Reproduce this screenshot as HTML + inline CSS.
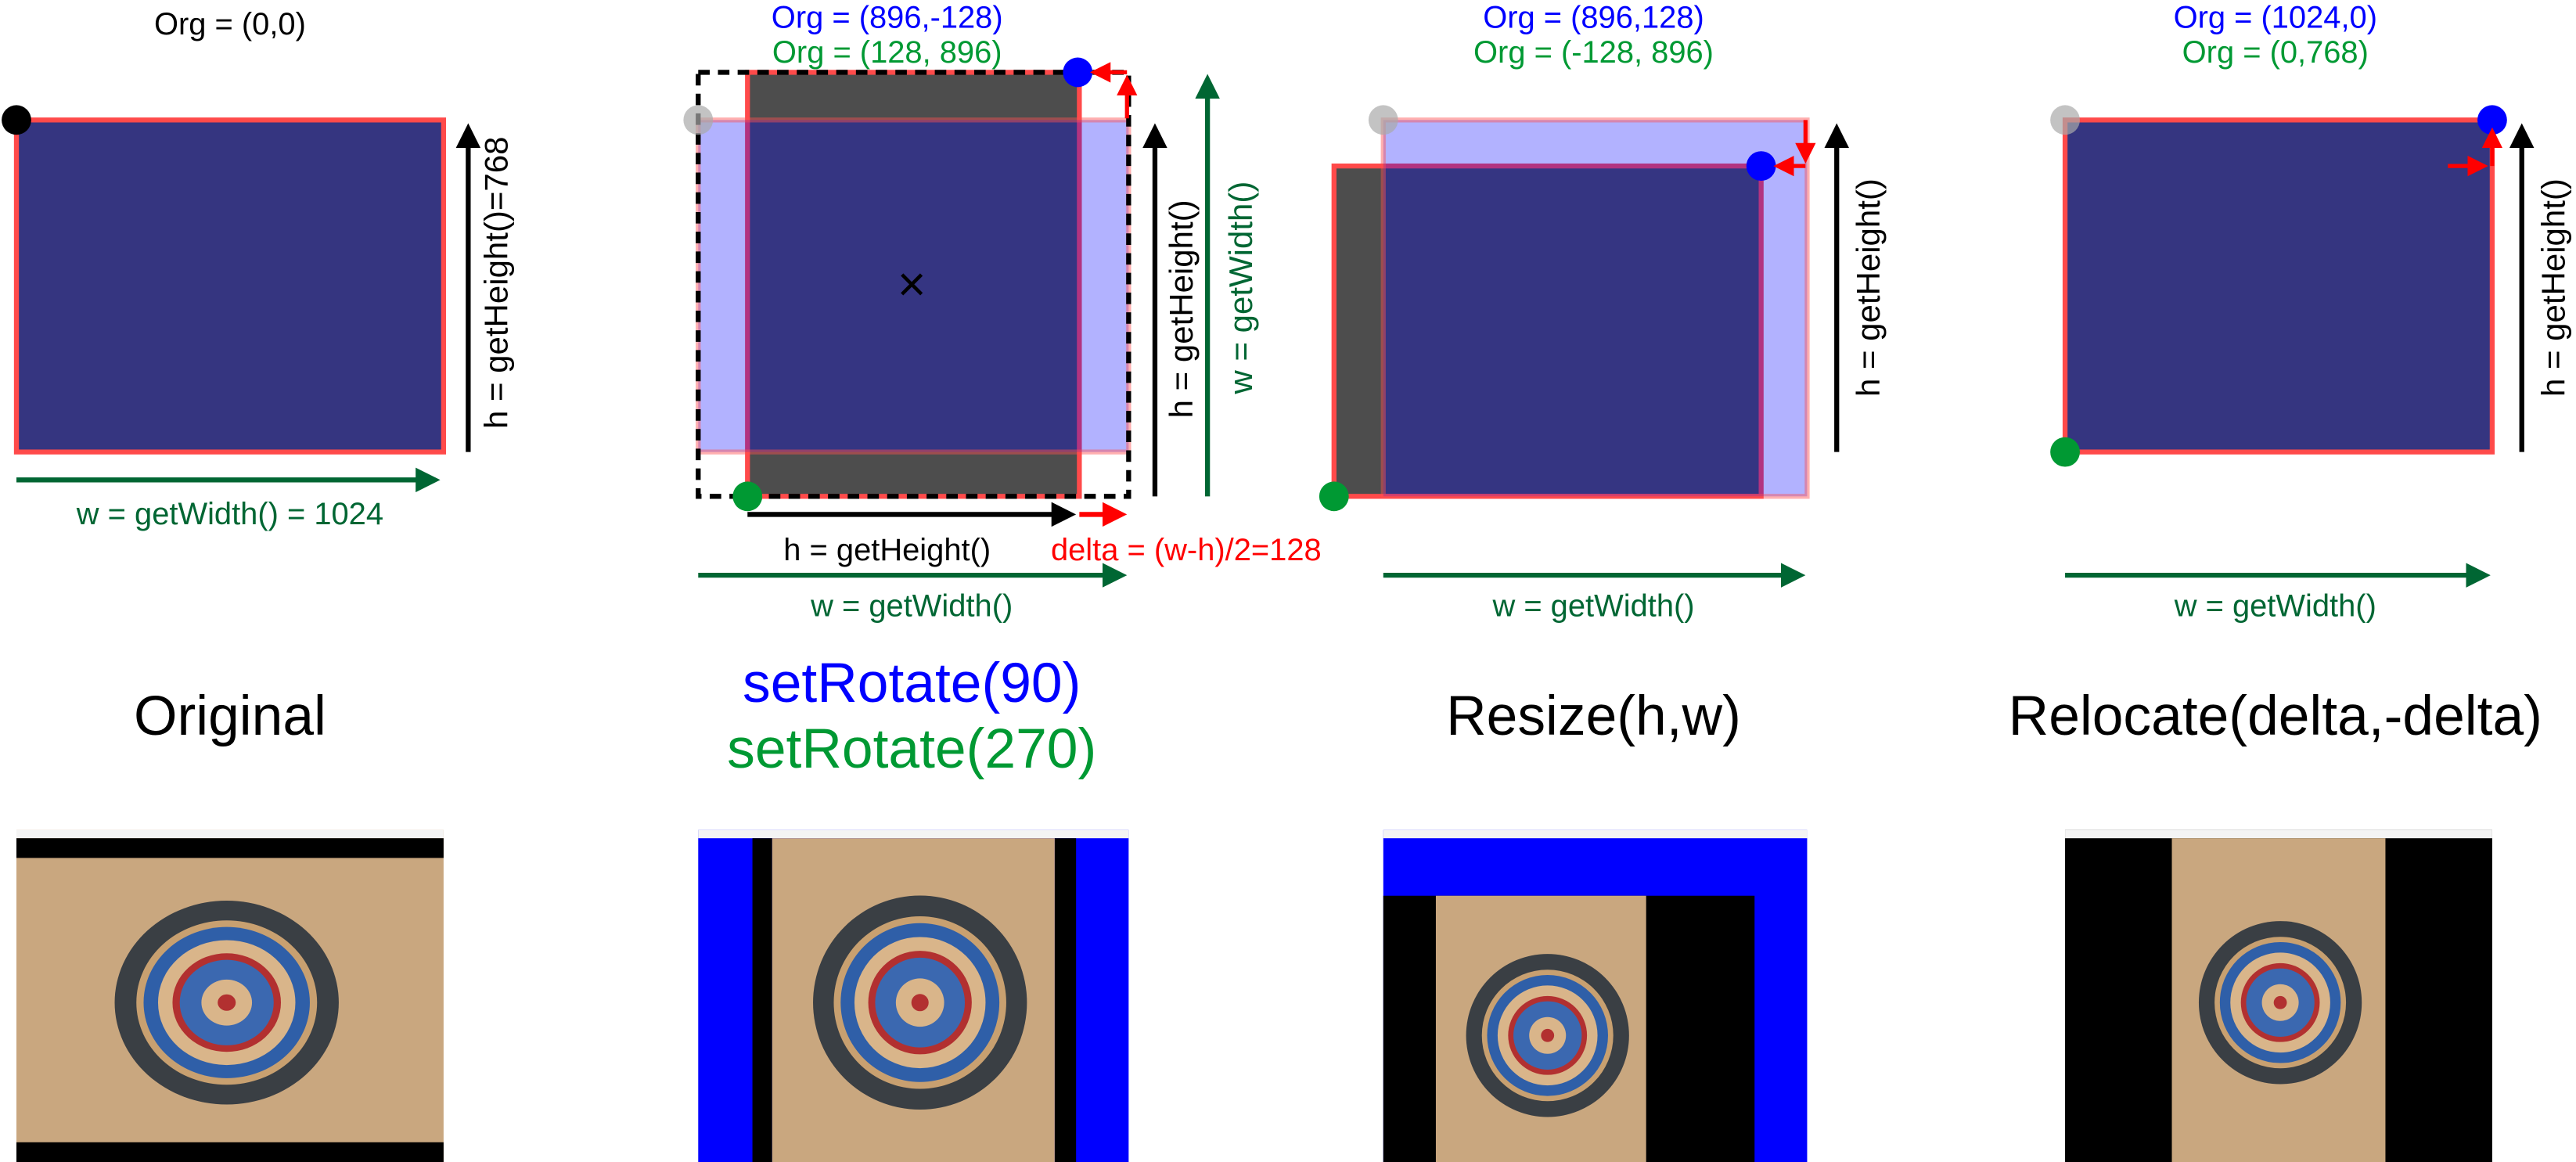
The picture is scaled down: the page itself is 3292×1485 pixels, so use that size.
<!DOCTYPE html>
<html><head><meta charset="utf-8"><style>
html,body{margin:0;padding:0;background:#fff;width:3292px;height:1485px;overflow:hidden}
svg{display:block}
text{font-family:"Liberation Sans",sans-serif}
</style></head><body>
<svg width="3292" height="1485" viewBox="0 0 1568 707" preserveAspectRatio="none">
<defs>
<marker id="ak" markerWidth="5" markerHeight="5" refX="4" refY="2.5" orient="auto" markerUnits="strokeWidth"><path d="M0,0 L5,2.5 L0,5 z" fill="#000"/></marker>
<marker id="ag" markerWidth="5" markerHeight="5" refX="4" refY="2.5" orient="auto" markerUnits="strokeWidth"><path d="M0,0 L5,2.5 L0,5 z" fill="#006633"/></marker>
<marker id="ar" markerWidth="5" markerHeight="5" refX="4" refY="2.5" orient="auto" markerUnits="strokeWidth"><path d="M0,0 L5,2.5 L0,5 z" fill="#f00"/></marker>
<g id="board">
<circle r="62" fill="#3a3f44"/><circle r="50" fill="#c8a070"/><circle r="46" fill="#2f5fa8"/><circle r="38" fill="#d9b58a"/><circle r="30" fill="#b23030"/><circle r="26" fill="#3b68b0"/><circle r="14" fill="#d9b58a"/><circle r="5" fill="#b23030"/>
</g>
</defs>

<g>
<text x="140" y="21" font-size="19" text-anchor="middle" fill="#000">Org = (0,0)</text>
<rect x="10" y="73" width="260" height="202" fill="#353580" stroke="#ff4a4a" stroke-width="3"/>
<circle cx="10" cy="73" r="9" fill="#000"/>
<line x1="285" y1="275" x2="285" y2="78" stroke="#000" stroke-width="3" marker-end="url(#ak)"/>
<text transform="translate(309,172) rotate(-90)" font-size="20" text-anchor="middle">h = getHeight()=768</text>
<line x1="10" y1="292" x2="265" y2="292" stroke="#006633" stroke-width="3" marker-end="url(#ag)"/>
<text x="140" y="319" font-size="19" text-anchor="middle" fill="#006633">w = getWidth() = 1024</text>
<text x="140" y="447" font-size="34" text-anchor="middle">Original</text>
<g>
<rect x="10" y="505" width="260" height="202" fill="#c9a77f"/>
<rect x="10" y="505" width="260" height="5" fill="#f4f4f4"/>
<rect x="10" y="510" width="260" height="12" fill="#000"/>
<rect x="10" y="695" width="260" height="12" fill="#000"/>
<use href="#board" transform="translate(138,610) scale(1.1,1)"/>
</g>
</g>

<g>
<text x="540" y="17" font-size="19" text-anchor="middle" fill="#0000ff">Org = (896,-128)</text>
<text x="540" y="38" font-size="19" text-anchor="middle" fill="#009933">Org = (128, 896)</text>
<rect x="455" y="44" width="202" height="258" fill="#4d4d4d" stroke="#ff4a4a" stroke-width="3"/>
<rect x="425" y="73" width="262" height="202" fill="rgba(0,0,255,0.3)" stroke="rgba(255,80,80,0.45)" stroke-width="3"/>
<rect x="425" y="44" width="262" height="258" fill="none" stroke="#000" stroke-width="3" stroke-dasharray="7,5"/>
<circle cx="425" cy="73" r="9" fill="rgba(170,170,170,0.7)"/>
<circle cx="656" cy="44" r="9" fill="#0000ff"/>
<circle cx="455" cy="302" r="9" fill="#009933"/>
<text x="555" y="183" font-size="30" text-anchor="middle">×</text>
<line x1="686" y1="72" x2="686" y2="48" stroke="#f00" stroke-width="2.5" marker-end="url(#ar)"/>
<line x1="686" y1="44" x2="666" y2="44" stroke="#f00" stroke-width="2.5" marker-end="url(#ar)"/>
<line x1="703" y1="302" x2="703" y2="78" stroke="#000" stroke-width="3" marker-end="url(#ak)"/>
<text transform="translate(726,188) rotate(-90)" font-size="20" text-anchor="middle">h = getHeight()</text>
<line x1="735" y1="302" x2="735" y2="48" stroke="#006633" stroke-width="3" marker-end="url(#ag)"/>
<text transform="translate(762,175) rotate(-90)" font-size="20" text-anchor="middle" fill="#006633">w = getWidth()</text>
<line x1="455" y1="313" x2="652" y2="313" stroke="#000" stroke-width="3" marker-end="url(#ak)"/>
<line x1="657" y1="313" x2="683" y2="313" stroke="#f00" stroke-width="3" marker-end="url(#ar)"/>
<text x="540" y="341" font-size="19" text-anchor="middle">h = getHeight()</text>
<text x="722" y="341" font-size="19" text-anchor="middle" fill="#f00">delta = (w-h)/2=128</text>
<line x1="425" y1="350" x2="683" y2="350" stroke="#006633" stroke-width="3" marker-end="url(#ag)"/>
<text x="555" y="375" font-size="19" text-anchor="middle" fill="#006633">w = getWidth()</text>
<text x="555" y="427" font-size="34" text-anchor="middle" fill="#0000ff">setRotate(90)</text>
<text x="555" y="467" font-size="34" text-anchor="middle" fill="#009933">setRotate(270)</text>
<g>
<rect x="425" y="505" width="262" height="202" fill="#0000ff"/>
<rect x="425" y="505" width="262" height="5" fill="#f4f4f4"/>
<rect x="458" y="510" width="12" height="197" fill="#000"/>
<rect x="642" y="510" width="13" height="197" fill="#000"/>
<rect x="470" y="510" width="172" height="197" fill="#c9a77f"/>
<use href="#board" transform="translate(560,610) scale(1.05)"/>
</g>
</g>

<g>
<text x="970" y="17" font-size="19" text-anchor="middle" fill="#0000ff">Org = (896,128)</text>
<text x="970" y="38" font-size="19" text-anchor="middle" fill="#009933">Org = (-128, 896)</text>
<rect x="812" y="101" width="260" height="201" fill="#4d4d4d" stroke="#ff4a4a" stroke-width="3"/>
<rect x="842" y="73" width="258" height="229" fill="rgba(0,0,255,0.3)" stroke="rgba(255,80,80,0.45)" stroke-width="3"/>
<circle cx="842" cy="73" r="9" fill="rgba(170,170,170,0.7)"/>
<circle cx="1072" cy="101" r="9" fill="#0000ff"/>
<circle cx="812" cy="302" r="9" fill="#009933"/>
<line x1="1099" y1="73" x2="1099" y2="97" stroke="#f00" stroke-width="2.5" marker-end="url(#ar)"/>
<line x1="1099" y1="101" x2="1082" y2="101" stroke="#f00" stroke-width="2.5" marker-end="url(#ar)"/>
<line x1="1118" y1="275" x2="1118" y2="78" stroke="#000" stroke-width="3" marker-end="url(#ak)"/>
<text transform="translate(1144,175) rotate(-90)" font-size="20" text-anchor="middle">h = getHeight()</text>
<line x1="842" y1="350" x2="1096" y2="350" stroke="#006633" stroke-width="3" marker-end="url(#ag)"/>
<text x="970" y="375" font-size="19" text-anchor="middle" fill="#006633">w = getWidth()</text>
<text x="970" y="447" font-size="34" text-anchor="middle">Resize(h,w)</text>
<g>
<rect x="842" y="505" width="258" height="202" fill="#0000ff"/>
<rect x="842" y="505" width="258" height="5" fill="#f4f4f4"/>
<rect x="842" y="545" width="226" height="162" fill="#000"/>
<rect x="874" y="545" width="128" height="162" fill="#c9a77f"/>
<use href="#board" transform="translate(942,630) scale(0.8)"/>
</g>
</g>

<g>
<text x="1385" y="17" font-size="19" text-anchor="middle" fill="#0000ff">Org = (1024,0)</text>
<text x="1385" y="38" font-size="19" text-anchor="middle" fill="#009933">Org = (0,768)</text>
<rect x="1257" y="73" width="260" height="202" fill="#353580" stroke="#ff4a4a" stroke-width="3"/>
<circle cx="1257" cy="73" r="9" fill="rgba(170,170,170,0.7)"/>
<circle cx="1517" cy="73" r="9" fill="#0000ff"/>
<circle cx="1257" cy="275" r="9" fill="#009933"/>
<line x1="1490" y1="101" x2="1512" y2="101" stroke="#f00" stroke-width="2.5" marker-end="url(#ar)"/>
<line x1="1517" y1="101" x2="1517" y2="80" stroke="#f00" stroke-width="2.5" marker-end="url(#ar)"/>
<line x1="1535" y1="275" x2="1535" y2="78" stroke="#000" stroke-width="3" marker-end="url(#ak)"/>
<text transform="translate(1561,175) rotate(-90)" font-size="20" text-anchor="middle">h = getHeight()</text>
<line x1="1257" y1="350" x2="1513" y2="350" stroke="#006633" stroke-width="3" marker-end="url(#ag)"/>
<text x="1385" y="375" font-size="19" text-anchor="middle" fill="#006633">w = getWidth()</text>
<text x="1385" y="447" font-size="34" text-anchor="middle">Relocate(delta,-delta)</text>
<g>
<rect x="1257" y="505" width="260" height="202" fill="#000"/>
<rect x="1257" y="505" width="260" height="5" fill="#f4f4f4"/>
<rect x="1322" y="510" width="130" height="197" fill="#c9a77f"/>
<use href="#board" transform="translate(1388,610) scale(0.8)"/>
</g>
</g>
</svg>
</body></html>
